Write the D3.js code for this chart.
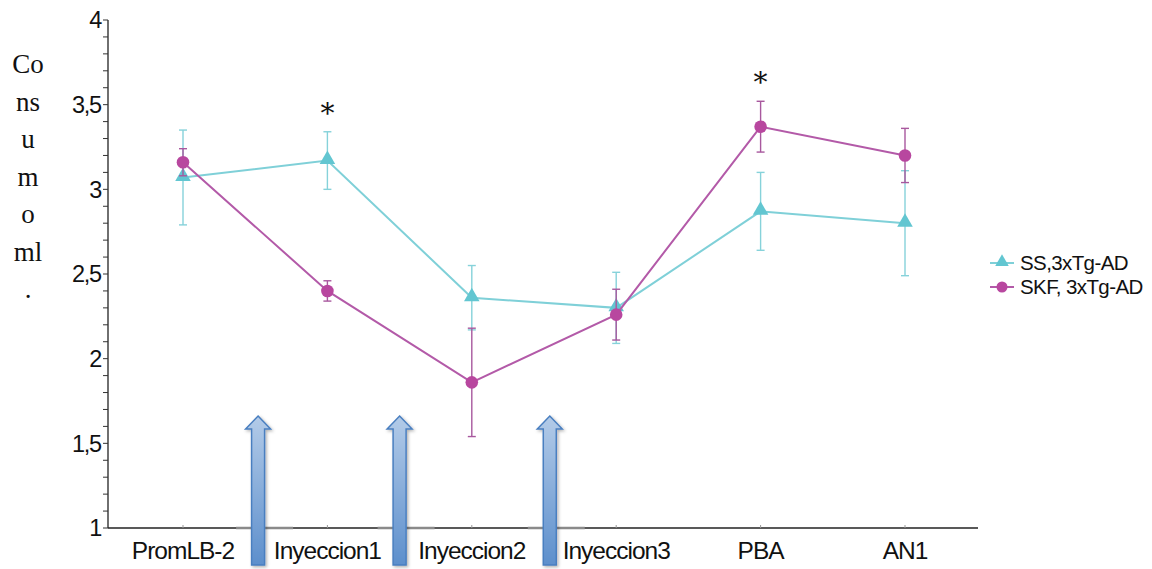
<!DOCTYPE html>
<html>
<head>
<meta charset="utf-8">
<script src="https://cdn.jsdelivr.net/npm/d3@7"></script>
<style>
  html, body { margin: 0; padding: 0; background: #fff; }
  svg { display: block; }
</style>
</head>
<body>
<svg id="chart" width="1152" height="569"></svg>
<script>
// Categories along the x axis
const categories = ["PromLB-2", "Inyeccion1", "Inyeccion2", "Inyeccion3", "PBA", "AN1"];

// Mean intake (ml) and standard error per group
const ssMeans   = [3.07, 3.17, 2.36, 2.30, 2.87, 2.80];
const ssErrors  = [0.28, 0.17, 0.19, 0.21, 0.23, 0.31];
const skfMeans  = [3.16, 2.40, 1.86, 2.26, 3.37, 3.20];
const skfErrors = [0.08, 0.06, 0.32, 0.15, 0.15, 0.16];

// Series names
const seriesNames = ["SS,3xTg-AD", "SKF, 3xTg-AD"];

// Y axis ticks
const yMajorTicks = [1, 1.5, 2, 2.5, 3, 3.5, 4];
const yTickLabels = ["1", "1,5", "2", "2,5", "3", "3,5", "4"];

// Significance marks
const significance = [
  { cat: "Inyeccion1", label: "*" },
  { cat: "PBA", label: "*" }
];

// Injection arrows: [from category, to category, relative position between them]
const injectionGaps = [[0, 1, 0.52], [1, 2, 0.50], [2, 3, 0.54]];

// Stacked y-axis title
const yTitleLines = ["Co", "ns", "u", "m", "o", "ml", "."];

const colors = {
  ss:  { line: "#7fd0d8", mark: "#62c6d1", err: "#86d2da" },
  skf: { line: "#b35aa8", mark: "#b8479f", err: "#a8589e" }
};

const svg = d3.select("#chart");

const axisLeftX = 108, axisRightX = 978;
const y = d3.scaleLinear().domain([1, 4]).range([528, 20]);
const x = d3.scalePoint().domain(categories).range([183, 905]);

// ---- Y axis ----
const gy = svg.append("g");
gy.append("line")
  .attr("x1", axisLeftX).attr("x2", axisLeftX)
  .attr("y1", y(4)).attr("y2", y(1))
  .attr("stroke", "#222").attr("stroke-width", 1.3);

const minorTicks = d3.range(10, 41).map(v => v / 10);
gy.selectAll("line.tick").data(minorTicks).join("line")
  .attr("class", "tick")
  .attr("x1", axisLeftX - 5).attr("x2", axisLeftX)
  .attr("y1", d => y(d)).attr("y2", d => y(d))
  .attr("stroke", "#333").attr("stroke-width", 1);

gy.selectAll("text.ylab").data(yMajorTicks).join("text")
  .attr("class", "ylab")
  .attr("x", axisLeftX - 7)
  .attr("y", d => y(d))
  .attr("dy", "0.36em")
  .attr("text-anchor", "end")
  .attr("font-family", "Liberation Sans, Arial, sans-serif")
  .attr("font-size", 23.5)
  .attr("letter-spacing", -1.2)
  .attr("fill", "#111")
  .text((d, i) => yTickLabels[i]);

// ---- Y title ----
svg.append("g").selectAll("text").data(yTitleLines).join("text")
  .attr("x", 28)
  .attr("y", (d, i) => 73 + i * 37.5)
  .attr("text-anchor", "middle")
  .attr("font-family", "Liberation Serif, DejaVu Serif, serif")
  .attr("font-size", 27)
  .attr("fill", "#111")
  .text(d => d);

// ---- X axis ----
const gx = svg.append("g");
gx.append("line")
  .attr("x1", axisLeftX).attr("x2", axisRightX)
  .attr("y1", y(1)).attr("y2", y(1))
  .attr("stroke", "#222").attr("stroke-width", 1.3);

gx.selectAll("line.xt").data(categories).join("line")
  .attr("class", "xt")
  .attr("x1", d => x(d)).attr("x2", d => x(d))
  .attr("y1", y(1) - 3).attr("y2", y(1))
  .attr("stroke", "#999").attr("stroke-width", 1);

gx.selectAll("text.xlab").data(categories).join("text")
  .attr("class", "xlab")
  .attr("x", d => x(d))
  .attr("y", 559)
  .attr("text-anchor", "middle")
  .attr("font-family", "Liberation Sans, Arial, sans-serif")
  .attr("font-size", 24.5)
  .attr("letter-spacing", -1.0)
  .attr("fill", "#111")
  .text(d => d);

// ---- Series ----
const series = [
  { key: "ss",  name: seriesNames[0], means: ssMeans,  errs: ssErrors,  shape: "triangle" },
  { key: "skf", name: seriesNames[1], means: skfMeans, errs: skfErrors, shape: "circle" }
];

const line = d3.line().x(d => x(d.cat)).y(d => y(d.v));
const triangle = d3.symbol().type(d3.symbolTriangle).size(105);

series.forEach(s => {
  const pts = categories.map((c, i) => ({ cat: c, v: s.means[i], e: s.errs[i] }));
  const c = colors[s.key];
  const g = svg.append("g");

  // error bars
  const eb = g.selectAll("g.eb").data(pts).join("g").attr("class", "eb");
  eb.append("line")
    .attr("x1", d => x(d.cat)).attr("x2", d => x(d.cat))
    .attr("y1", d => y(d.v + d.e)).attr("y2", d => y(d.v - d.e))
    .attr("stroke", c.err).attr("stroke-width", 1.4);
  [1, -1].forEach(sign => {
    eb.append("line")
      .attr("x1", d => x(d.cat) - 4).attr("x2", d => x(d.cat) + 4)
      .attr("y1", d => y(d.v + sign * d.e)).attr("y2", d => y(d.v + sign * d.e))
      .attr("stroke", c.err).attr("stroke-width", 1.4);
  });

  // connecting line
  g.append("path").datum(pts)
    .attr("d", line)
    .attr("fill", "none")
    .attr("stroke", c.line)
    .attr("stroke-width", 2);

  // markers
  if (s.shape === "circle") {
    g.selectAll("circle").data(pts).join("circle")
      .attr("cx", d => x(d.cat)).attr("cy", d => y(d.v))
      .attr("r", 6.3).attr("fill", c.mark);
  } else {
    g.selectAll("path.m").data(pts).join("path")
      .attr("class", "m")
      .attr("transform", d => `translate(${x(d.cat)},${y(d.v) - 1})`)
      .attr("d", triangle)
      .attr("fill", c.mark);
  }
});

// ---- Significance asterisks ----
svg.append("g").selectAll("text").data(significance).join("text")
  .attr("x", d => x(d.cat))
  .attr("y", d => {
    const i = categories.indexOf(d.cat);
    const top = Math.max(ssMeans[i] + ssErrors[i], skfMeans[i] + skfErrors[i]);
    return y(top) - 9;
  })
  .attr("text-anchor", "middle")
  .attr("font-family", "DejaVu Serif, Liberation Serif, serif")
  .attr("font-size", 28)
  .attr("fill", "#111")
  .text(d => d.label);

// ---- Legend ----
const legend = svg.append("g").attr("transform", "translate(990,263)");
series.forEach((s, i) => {
  const c = colors[s.key];
  const row = legend.append("g").attr("transform", `translate(0,${i * 24})`);
  row.append("line").attr("x1", 0).attr("x2", 24).attr("y1", 0).attr("y2", 0)
    .attr("stroke", c.line).attr("stroke-width", 2);
  if (s.shape === "circle") {
    row.append("circle").attr("cx", 12).attr("cy", 0).attr("r", 5.5).attr("fill", c.mark);
  } else {
    row.append("path").attr("transform", "translate(12,-1)")
      .attr("d", d3.symbol().type(d3.symbolTriangle).size(80)).attr("fill", c.mark);
  }
  row.append("text")
    .attr("x", 30).attr("y", 0).attr("dy", "0.36em")
    .attr("font-family", "Liberation Sans, Arial, sans-serif")
    .attr("font-size", 20.5)
    .attr("letter-spacing", -0.6)
    .attr("fill", "#111")
    .text(s.name);
});

// ---- Injection arrows ----
const defs = svg.append("defs");
const grad = defs.append("linearGradient").attr("id", "arrowFill")
  .attr("x1", 0).attr("y1", 0).attr("x2", 0).attr("y2", 1);
grad.append("stop").attr("offset", "0%").attr("stop-color", "#b3cbe8");
grad.append("stop").attr("offset", "100%").attr("stop-color", "#5d8fcc");
const shadow = defs.append("filter").attr("id", "arrowShadow")
  .attr("x", "-50%").attr("y", "-20%").attr("width", "200%").attr("height", "140%");
shadow.append("feDropShadow").attr("dx", 1.5).attr("dy", 1.5)
  .attr("stdDeviation", 1.5).attr("flood-color", "#000").attr("flood-opacity", 0.3);

const arrowCenters = injectionGaps.map(([a, b, t]) =>
  x(categories[a]) + t * (x(categories[b]) - x(categories[a])));

const ga = svg.append("g");
// grey bars on the axis under each arrow
ga.selectAll("line.base").data(arrowCenters).join("line")
  .attr("class", "base")
  .attr("x1", d => d - 22).attr("x2", d => d + 35)
  .attr("y1", y(1)).attr("y2", y(1))
  .attr("stroke", "#8a8a8a").attr("stroke-width", 2.5);

const arrowTop = 416, arrowShoulder = 429, arrowBottom = 565;
const headHalf = 12.5, shaftHalf = 6.5;
ga.selectAll("path.arrow").data(arrowCenters).join("path")
  .attr("class", "arrow")
  .attr("d", cx => {
    const p = d3.path();
    p.moveTo(cx, arrowTop);
    p.lineTo(cx + headHalf, arrowShoulder);
    p.lineTo(cx + shaftHalf, arrowShoulder);
    p.lineTo(cx + shaftHalf, arrowBottom);
    p.lineTo(cx - shaftHalf, arrowBottom);
    p.lineTo(cx - shaftHalf, arrowShoulder);
    p.lineTo(cx - headHalf, arrowShoulder);
    p.closePath();
    return p.toString();
  })
  .attr("fill", "url(#arrowFill)")
  .attr("stroke", "#4a7fc0")
  .attr("stroke-width", 1.5)
  .attr("filter", "url(#arrowShadow)");
</script>
</body>
</html>
